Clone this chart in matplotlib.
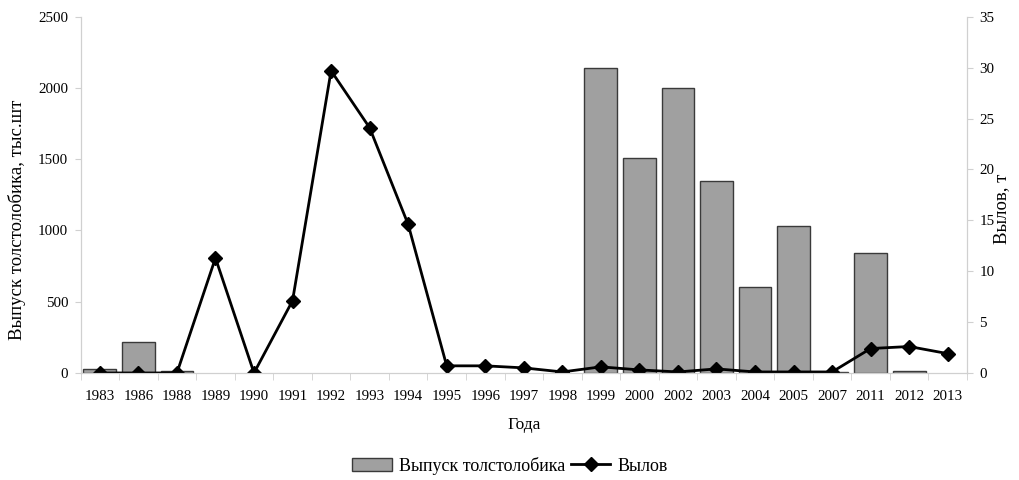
import matplotlib.pyplot as plt
import numpy as np

# Данные
years = ["1983", "1986", "1988", "1989", "1990", "1991", "1992", "1993", "1994",
         "1995", "1996", "1997", "1998", "1999", "2000", "2002", "2003", "2004",
         "2005", "2007", "2011", "2012", "2013"]
nan = np.nan
vypusk = [28, 216, 15, nan, nan, nan, nan, nan, nan, nan, nan, nan, nan, 2143,
          1507, 2000, 1347, 601, 1031, 10, 839, 16, nan]
vylov = [0.0, 0.0, 0.0, 11.3, 0.0, 7.1, 29.7, 24.1, 14.6, 0.7, 0.7, 0.5, 0.1,
         0.6, 0.3, 0.1, 0.4, 0.1, 0.1, 0.1, 2.4, 2.6, 1.9]

plt.rcParams["font.family"] = ["Liberation Serif", "DejaVu Serif"]
grey_axis = "#d0d0d0"

fig = plt.figure(figsize=(10.2, 4.8), dpi=100)
ax = fig.add_axes([0.079, 0.223, 0.869, 0.742])
x = np.arange(len(years))

bars = ax.bar(x, vypusk, width=0.85, color="#a0a0a0", edgecolor="#3a3a3a",
              linewidth=1.0, label="Выпуск толстолобика")
ax.set_ylim(0, 2500)
ax.set_xlim(-0.5, len(years) - 0.5)
ax.set_yticks(np.arange(0, 2501, 500))
ax.set_xticks(x)
ax.set_xticklabels(years)
ax.set_xticks(np.arange(-0.5, len(years), 1), minor=True)
ax.tick_params(axis="x", which="major", length=0, pad=12, labelsize=10.8)
ax.tick_params(axis="x", which="minor", length=5, color=grey_axis)
ax.tick_params(axis="y", length=4, color=grey_axis, labelsize=10.8, pad=5)
ax.set_xlabel("Года", fontsize=12.5, labelpad=10)
ax.set_ylabel("Выпуск толстолобика, тыс.шт", fontsize=13.5)
ax.yaxis.set_label_coords(-0.062, 0.43)

ax2 = ax.twinx()
line, = ax2.plot(x, vylov, color="black", linewidth=2, marker="D",
                 markersize=7, label="Вылов")
ax2.set_ylim(0, 35)
ax2.set_yticks(np.arange(0, 36, 5))
ax2.tick_params(axis="y", length=4, color=grey_axis, labelsize=10.8, pad=5)
ax2.set_ylabel("Вылов, т", fontsize=13.5)
ax2.yaxis.set_label_coords(1.03, 0.46)

for a in (ax, ax2):
    a.spines["top"].set_visible(False)
    for s in ("left", "right", "bottom"):
        a.spines[s].set_color(grey_axis)

fig.legend([bars, line], ["Выпуск толстолобика", "Вылов"], loc="center",
           bbox_to_anchor=(0.5, 0.03), ncol=2, frameon=False, fontsize=13,
           handlelength=2.2, columnspacing=0.3, handletextpad=0.4)

fig.savefig("out.png", dpi=100)
